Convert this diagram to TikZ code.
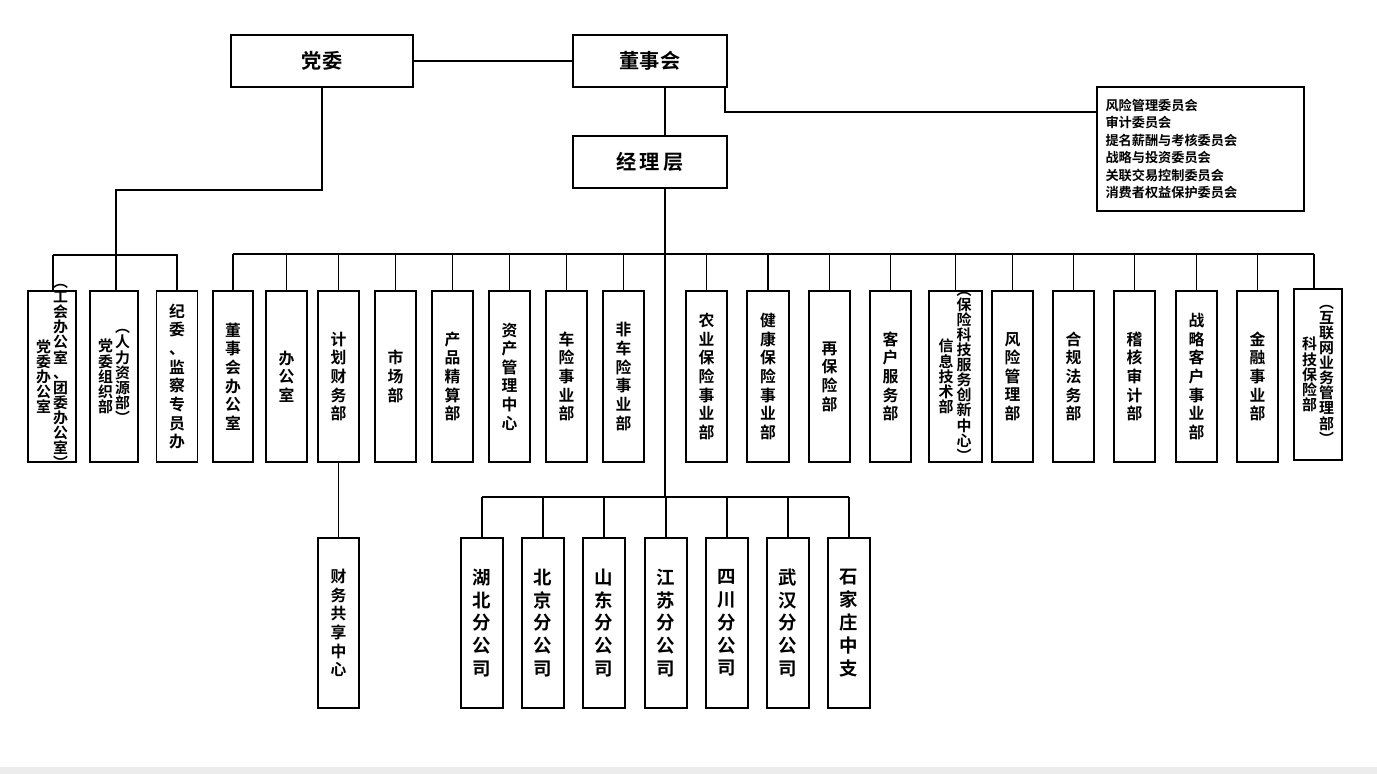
\documentclass[tikz,border=0pt]{standalone}
\usepackage{fontspec}
\setmainfont{Noto Sans CJK SC}[BoldFont={Noto Sans CJK SC Bold}]
\begin{document}
\begin{tikzpicture}[x=0.02cm,y=-0.02cm,
 bx/.style={draw,line width=0.9pt,inner sep=0},
 ln/.style={line width=0.9pt},
 vt/.style={font=\bfseries\fontsize{9}{10.6}\selectfont,align=center,inner sep=0},
 vt2/.style={font=\bfseries\fontsize{8.5}{8.6}\selectfont,align=center,inner sep=0}]
\useasboundingbox (0,0) rectangle (1377,774);
\fill[gray!15] (0,767) rectangle (1377,774);
% top
\node[bx,minimum width=182*0.02cm,minimum height=52*0.02cm,font=\bfseries\fontsize{11.5}{12}\selectfont] (dw) at (322,61) {党委};
\node[bx,minimum width=154*0.02cm,minimum height=52*0.02cm,font=\bfseries\fontsize{11.5}{12}\selectfont] (dsh) at (650,61) {董事会};
\node[bx,minimum width=154*0.02cm,minimum height=52*0.02cm,font=\bfseries\fontsize{11.5}{12}\selectfont] (jl) at (650,162) {经\,理\,层};
\node[bx,minimum width=207*0.02cm,minimum height=124*0.02cm,font=\bfseries\fontsize{7.5}{10}\selectfont,align=left,text width=190*0.02cm] (wy) at (1200.5,149) {风险管理委员会\\审计委员会\\提名薪酬与考核委员会\\战略与投资委员会\\关联交易控制委员会\\消费者权益保护委员会};
\draw[ln] (dw) -- (dsh);
\draw[ln] (665,87) -- (665,136);
\coordinate (c1) at (725,87);
\draw[ln] (c1) -- (725,112) -- (1097,112);
% party branch
\draw[ln] (dw.south) -- (322,190) -- (116,190) -- (116,255);
\draw[ln] (53,255) -- (178,255);
\newcommand\vb[5]{\node[bx,minimum width=#3*0.02cm,minimum height=171*0.02cm] (#1) at (#2,376.5) {}; \node[vt] at (#1.center) {#4}; \draw[ln] (#2,#5) -- (#1.north);}
\newcommand\vc[6]{\node[bx,minimum width=48*0.02cm,minimum height=171*0.02cm] (#1) at (#2,376.5) {}; \node[vt2] at ([xshift=-0.17cm]#1.center) {#3}; \node[vt2] at ([xshift=0.17cm]#1.center) {#4}; \draw[ln] (#5,#6) -- (#5,291);}
\vc{p1}{52}{党\\委\\办\\公\\室}{︵\\工\\会\\办\\公\\室\\、\\团\\委\\办\\公\\室\\︶}{53}{255}
\vc{p2}{114}{党\\委\\组\\织\\部}{︵\\人\\力\\资\\源\\部\\︶}{116}{255}
\vb{p3}{177}{41}{纪\\委\\、\\监\\察\\专\\员\\办}{255}
% main bus
\draw[ln] (665,188) -- (665,497);
\draw[ln] (233,254) -- (1314,254);
\vb{a1}{233}{40}{董\\事\\会\\办\\公\\室}{254}
\vb{a2}{286.5}{41}{办\\公\\室}{254}
\vb{a3}{338.5}{41}{计\\划\\财\\务\\部}{254}
\vb{a4}{395.5}{41}{市\\场\\部}{254}
\vb{a5}{452.5}{41}{产\\品\\精\\算\\部}{254}
\vb{a6}{509.5}{41}{资\\产\\管\\理\\中\\心}{254}
\vb{a7}{566.5}{41}{车\\险\\事\\业\\部}{254}
\vb{a8}{623.5}{41}{非\\车\\险\\事\\业\\部}{254}
\vb{b1}{706.5}{41}{农\\业\\保\\险\\事\\业\\部}{254}
\vb{b2}{768}{42}{健\\康\\保\\险\\事\\业\\部}{254}
\vb{b3}{829.5}{41}{再\\保\\险\\部}{254}
\vb{b4}{890.5}{41}{客\\户\\服\\务\\部}{254}
\vb{b6}{1012.5}{41}{风\\险\\管\\理\\部}{254}
\vb{b7}{1073.5}{41}{合\\规\\法\\务\\部}{254}
\vb{b8}{1134.5}{41}{稽\\核\\审\\计\\部}{254}
\vb{b9}{1196.5}{41}{战\\略\\客\\户\\事\\业\\部}{254}
\vb{b10}{1257.5}{41}{金\\融\\事\\业\\部}{254}
\node[bx,minimum width=53*0.02cm,minimum height=171*0.02cm] (b5) at (955.5,376.5) {};
\node[vt2] at ([xshift=-0.19cm]b5.center) {信\\息\\技\\术\\部};
\node[vt2] at ([xshift=0.17cm]b5.center) {︵\\保\\险\\科\\技\\服\\务\\创\\新\\中\\心\\︶};
\draw[ln] (955.5,254) -- (b5.north);
\node[bx,minimum width=48*0.02cm,minimum height=171*0.02cm] (b11) at (1318,374.5) {};
\node[vt2] at ([xshift=-0.17cm]b11.center) {科\\技\\保\\险\\部};
\node[vt2] at ([xshift=0.17cm]b11.center) {︵\\互\\联\\网\\业\\务\\管\\理\\部\\︶};
\draw[ln] (1314,254) -- (1314,289);
% finance sharing
\node[bx,minimum width=41*0.02cm,minimum height=170*0.02cm] (fs) at (338.5,623) {};
\node[vt] at (fs.center) {财\\务\\共\\享\\中\\心};
\draw[ln] (a3.south) -- (fs.north);
% branches
\draw[ln] (482,497) -- (849,497);
\newcommand\br[3]{\node[bx,minimum width=42*0.02cm,minimum height=170*0.02cm] (#1) at (#2,623) {}; \node[vt,font=\bfseries\fontsize{10.5}{13}\selectfont] at (#1.center) {#3}; \draw[ln] (#2,497) -- (#1.north);}
\br{c1n}{482}{湖\\北\\分\\公\\司}
\br{c2n}{543}{北\\京\\分\\公\\司}
\br{c3n}{604}{山\\东\\分\\公\\司}
\br{c4n}{666}{江\\苏\\分\\公\\司}
\br{c5n}{727}{四\\川\\分\\公\\司}
\br{c6n}{788}{武\\汉\\分\\公\\司}
\br{c7n}{849}{石\\家\\庄\\中\\支}
\end{tikzpicture}
\end{document}
